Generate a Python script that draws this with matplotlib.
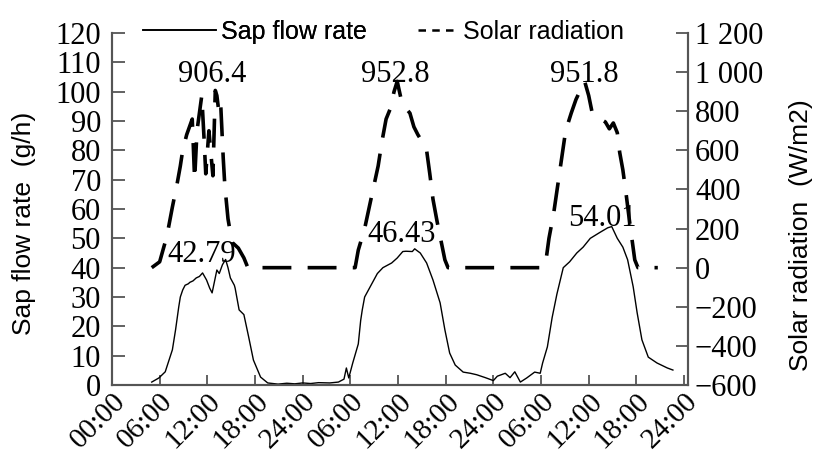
import matplotlib
matplotlib.use('Agg')
import matplotlib.pyplot as plt
from matplotlib.lines import Line2D

# ---------------- data ----------------
sap_hours = [5.0, 5.9, 6.7, 7.0, 7.6, 8.0, 8.4, 8.6, 8.9, 9.2, 9.6, 9.8, 10.2, 10.6, 11.0, 11.4,
             11.9, 12.3, 12.6, 13.2, 13.5, 13.9, 14.3, 14.6, 14.9, 15.4, 15.5, 16.0, 16.6, 17.2,
             17.8, 18.7, 19.6, 20.9, 22.0, 23.0, 24.0, 25.0, 26.0, 27.4, 28.5, 29.2, 29.5, 29.8,
             30.3, 31.0, 31.3, 31.5, 31.8, 32.5, 33.4, 34.1, 35.2, 35.9, 36.6, 37.0, 37.8, 38.1,
             38.4, 38.8, 39.6, 40.4, 41.3, 41.9, 42.5, 43.2, 44.2, 45.1, 45.9, 47.0, 48.0, 48.5,
             49.5, 50.1, 50.7, 51.4, 52.2, 53.2, 53.9, 54.2, 54.8, 55.4, 56.0, 56.8, 57.6, 58.5,
             59.3, 60.2, 61.4, 62.4, 62.9, 63.6, 64.3, 64.9, 65.6, 66.1, 66.7, 67.5, 68.6, 69.9,
             70.6]
sap_values = [1.0, 2.4, 4.5, 7.0, 12.0, 18.8, 26.6, 30.0, 32.4, 34.0, 34.5, 35.0, 35.5, 36.5, 37.0, 38.2,
              35.8, 33.0, 31.4, 39.2, 38.0, 41.0, 42.79, 40.0, 36.5, 34.0, 33.0, 25.6, 24.0, 16.4,
              8.5, 2.7, 0.7, 0.3, 0.6, 0.4, 0.7, 0.5, 0.8, 0.7, 1.0, 2.0, 5.8, 2.4,
              7.5, 14.0, 22.0, 25.6, 30.0, 33.5, 38.0, 40.0, 41.6, 43.3, 45.5, 45.6, 45.5, 46.43,
              45.8, 45.0, 41.6, 35.8, 28.0, 18.8, 10.9, 6.8, 4.4, 4.0, 3.5, 2.5, 1.5, 3.0,
              4.0, 2.5, 4.5, 1.0, 2.4, 4.4, 4.0, 7.5, 13.0, 23.0, 31.0, 40.0, 42.0, 45.0,
              47.0, 50.0, 52.0, 53.6, 54.01, 50.0, 47.0, 42.7, 33.5, 24.6, 15.4, 9.5, 7.5, 5.8,
              5.1]

solar_hours = [5.0, 6.0, 6.9, 7.6, 8.2, 8.6, 8.9, 9.4, 10.1, 10.4, 10.7, 11.3, 11.6, 11.8, 12.2, 12.5,
               12.7, 13.0, 13.2, 13.5, 13.7, 14.0, 14.2, 14.6, 15.1, 15.9, 16.6, 17.1, 29.3, 30.6,
               31.0, 31.8, 32.7, 33.5, 34.0, 34.5, 35.0, 35.5, 35.9, 36.4, 36.9, 37.5, 38.0, 38.5,
               39.1, 39.6, 40.0, 40.4, 40.9, 41.4, 41.9, 42.3, 54.2, 54.6, 55.0, 55.6, 56.1, 56.6,
               57.1, 57.8, 58.4, 59.2, 59.5, 60.0, 60.4, 61.0, 61.5, 62.1, 62.6, 63.1, 63.6, 63.9,
               64.3, 64.7, 65.1, 65.5, 65.8, 66.2, 68.7]
solar_values = [0, 30, 160, 310, 430, 520, 600, 680, 760, 450, 700, 880, 650, 480, 700, 560,
                470, 906.4, 880, 780, 820, 560, 420, 250, 130, 100, 50, 0, 0, 0,
                90, 200, 370, 520, 650, 760, 810, 900, 952.8, 860, 820, 790, 720, 680,
                640, 600, 480, 350, 240, 140, 40, 0, 0, 30, 150, 280, 420, 560,
                700, 790, 860, 930, 951.8, 880, 800, 770, 760, 745, 710, 740, 690, 590,
                500, 380, 250, 130, 40, 0, 0]

x_ticks = [0, 6, 12, 18, 24, 30, 36, 42, 48, 54, 60, 66, 72]
x_tick_labels = ['00:00', '06:00', '12:00', '18:00', '24:00', '06:00', '12:00',
                 '18:00', '24:00', '06:00', '12:00', '18:00', '24:00']
left_ticks = list(range(0, 121, 10))
right_ticks = [-600, -400, -200, 0, 200, 400, 600, 800, 1000, 1200]
right_tick_labels = ['\u2212600', '\u2212400', '\u2212200', '0', '200', '400', '600', '800',
                     '1 000', '1 200']

solar_peak_labels = ['906.4', '952.8', '951.8']
solar_peak_pos = [(12.6, 106.0), (35.6, 106.0), (59.5, 106.0)]
sap_peak_labels = ['42.79', '46.43', '54.01']
sap_peak_pos = [(11.3, 44.5), (36.5, 51.4), (61.7, 56.8)]

# ---------------- figure ----------------
plt.rcParams['font.family'] = ['Liberation Serif', 'DejaVu Serif']
SANS = 'Liberation Sans'
SPINE = '#555555'

fig = plt.figure(figsize=(8.19, 4.58), dpi=100)
ax = fig.add_axes([112 / 819, 1 - 385 / 458, 576 / 819, 352 / 458])
ax2 = ax.twinx()

ax.plot(sap_hours, sap_values, color='black', lw=1.0)
ax2.plot(solar_hours, solar_values, color='black', lw=2.6, linestyle=(0, (8, 4.5)))

ax.set_xlim(0, 72.5)
ax.set_ylim(0, 120)
ax2.set_ylim(-600, 1200)

ax.set_xticks(x_ticks)
ax.set_xticklabels(x_tick_labels, rotation=45, ha='right', rotation_mode='anchor')
ax.set_yticks(left_ticks)
ax2.set_yticks(right_ticks)
ax2.set_yticklabels(right_tick_labels)

for a in (ax, ax2):
    a.spines['top'].set_visible(False)
    for s in ('left', 'right', 'bottom'):
        a.spines[s].set_color(SPINE)
        a.spines[s].set_linewidth(1.5)

ax.tick_params(axis='y', direction='in', length=9, width=1.3, color=SPINE, labelsize=22, pad=8)
ax.tick_params(axis='x', direction='in', length=7, width=1.3, color=SPINE, labelsize=21, pad=2)
ax2.tick_params(axis='y', direction='in', length=9, width=1.3, color=SPINE, labelsize=22, pad=5)

for lab, (x, y) in zip(solar_peak_labels, solar_peak_pos):
    ax.text(x, y, lab, ha='center', va='center', fontsize=22)
for lab, (x, y) in zip(sap_peak_labels, sap_peak_pos):
    ax.text(x, y, lab, ha='center', va='center', fontsize=22)

ax.set_ylabel('Sap flow rate  (g/h)', fontfamily=SANS, fontsize=19)
ax.yaxis.set_label_coords(-0.132, 0.46)
ax2.set_ylabel('Solar radiation  (W/m2)', fontfamily=SANS, fontsize=19, rotation=90)
ax2.yaxis.set_label_coords(1.176, 0.426)

em = 18 * 100 / 72
h1 = Line2D([], [], color='black', lw=1.2)
h2 = Line2D([], [], color='black', lw=1.8, linestyle=(0, (3, 2.5)))
leg1 = ax.legend([h1], ['Sap flow rate'], loc='center left',
                 bbox_to_anchor=(143 / 819, 1 - 32 / 458), bbox_transform=fig.transFigure,
                 frameon=False, prop={'family': SANS, 'size': 18},
                 handlelength=73 / em, handletextpad=0.2, borderpad=0, borderaxespad=0)
ax.add_artist(leg1)
leg2 = ax2.legend([h2], ['Solar radiation'], loc='center left',
                  bbox_to_anchor=(418 / 819, 1 - 32 / 458), bbox_transform=fig.transFigure,
                  frameon=False, prop={'family': SANS, 'size': 18},
                  handlelength=40 / em, handletextpad=0.2, borderpad=0, borderaxespad=0)

fig.savefig('out.png', dpi=100)
